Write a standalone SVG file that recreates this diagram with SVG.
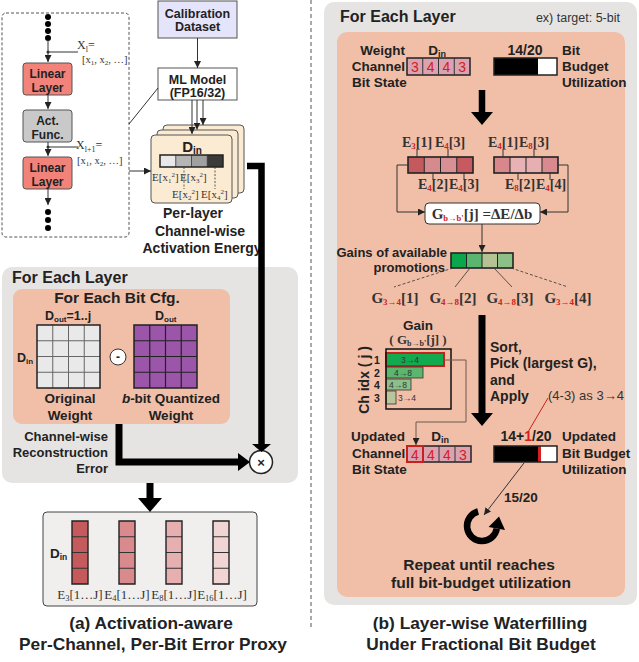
<svg xmlns="http://www.w3.org/2000/svg" width="639" height="662" viewBox="0 0 639 662">
<defs>
<style>
.t{font-family:"Liberation Sans",Arial,sans-serif;font-weight:bold;fill:#222}
.n{font-family:"Liberation Sans",Arial,sans-serif;fill:#333}
.s{font-family:"Liberation Serif","Times New Roman",serif;fill:#333}
.sb{font-family:"Liberation Serif","Times New Roman",serif;font-weight:bold;fill:#333}
.r{fill:#d42020}
.ln{stroke:#333;stroke-width:1;fill:none}
.cell{stroke:#222;stroke-width:1.2}
</style>
<marker id="ah" viewBox="0 0 10 10" refX="10" refY="5" markerWidth="7" markerHeight="7" markerUnits="userSpaceOnUse" orient="auto"><path d="M0,0 L10,5 L0,10 z" fill="#222"/></marker>
</defs>
<rect width="639" height="662" fill="#ffffff"/>

<!-- divider -->
<line x1="311" y1="0" x2="311" y2="627" stroke="#555" stroke-width="1" stroke-dasharray="4,3"/>

<!-- left network -->
<g id="network">
<rect x="2" y="13" width="127" height="224" rx="4" fill="none" stroke="#555" stroke-dasharray="3,2"/>
<circle cx="48" cy="17" r="3"/><circle cx="48" cy="24" r="3"/><circle cx="48" cy="31" r="3"/><circle cx="48" cy="38" r="3"/>
<circle cx="48" cy="212" r="3"/><circle cx="48" cy="220" r="3"/><circle cx="48" cy="228" r="3"/>
<text class="s" x="77" y="49" font-size="12">X<tspan font-size="8" dy="3">l</tspan><tspan dy="-3">=</tspan></text>
<text class="s" x="82" y="63" font-size="10.5">[x<tspan font-size="7" dy="2">1</tspan><tspan dy="-2">, x</tspan><tspan font-size="7" dy="2">2</tspan><tspan dy="-2">, …]</tspan></text>
<text class="s" x="76" y="149" font-size="12">X<tspan font-size="8" dy="3">l+1</tspan><tspan dy="-3">=</tspan></text>
<text class="s" x="77" y="164" font-size="10.5">[x<tspan font-size="7" dy="2">1</tspan><tspan dy="-2">, x</tspan><tspan font-size="7" dy="2">2</tspan><tspan dy="-2">, …]</tspan></text>
</g>
<g id="linear1">
<rect x="23" y="63" width="49" height="32" rx="3" fill="#f2837b" stroke="#555"/>
<text class="t" x="47.5" y="77.5" font-size="12" text-anchor="middle" fill="#333">Linear</text>
<text class="t" x="47.5" y="91.5" font-size="12" text-anchor="middle" fill="#333">Layer</text>
</g>
<g id="actfunc">
<rect x="23" y="110" width="49" height="32" rx="3" fill="#c9c9c9" stroke="#555"/>
<text class="t" x="47.5" y="124.5" font-size="12" text-anchor="middle" fill="#333">Act.</text>
<text class="t" x="47.5" y="138.5" font-size="12" text-anchor="middle" fill="#333">Func.</text>
</g>
<g id="linear2">
<rect x="23" y="157" width="49" height="32" rx="3" fill="#f2837b" stroke="#555"/>
<text class="t" x="47.5" y="171.5" font-size="12" text-anchor="middle" fill="#333">Linear</text>
<text class="t" x="47.5" y="185.5" font-size="12" text-anchor="middle" fill="#333">Layer</text>
</g>

<g id="calib">
<rect x="158" y="1" width="79" height="37" fill="#e4e4fa" stroke="#555"/>
<text class="t" x="197.5" y="18" font-size="12.5" text-anchor="middle" fill="#333">Calibration</text>
<text class="t" x="197.5" y="31" font-size="12.5" text-anchor="middle" fill="#333">Dataset</text>
</g>
<g id="mlmodel">
<rect x="158" y="68" width="79" height="32" fill="#ffffff" stroke="#555"/>
<text class="t" x="197.5" y="84" font-size="12.5" text-anchor="middle" fill="#333">ML Model</text>
<text class="t" x="197.5" y="97" font-size="12.5" text-anchor="middle" fill="#333">(FP16/32)</text>
</g>

<g id="perlayer">
<rect x="163" y="125" width="81" height="68" rx="4" fill="#fcebd3" stroke="#555"/>
<rect x="157" y="130" width="81" height="68" rx="4" fill="#fcebd3" stroke="#555"/>
<rect x="151" y="135" width="81" height="68" rx="4" fill="#fcebd3" stroke="#555"/>
<text class="t" x="192" y="152" font-size="15" text-anchor="middle">D<tspan font-size="10" dy="2">in</tspan></text>
<rect x="160" y="155" width="15.75" height="12" fill="#e8e8e8"/>
<rect x="175.75" y="155" width="15.75" height="12" fill="#b5b5b5"/>
<rect x="191.5" y="155" width="15.75" height="12" fill="#a0a0a0"/>
<rect x="207.25" y="155" width="15.75" height="12" fill="#3a3a3a"/>
<path d="M175.75,155V167M191.5,155V167M207.25,155V167" stroke="#333" stroke-width="0.8"/>
<rect x="160" y="155" width="63" height="12" fill="none" stroke="#222" stroke-width="1.5"/>
<path d="M184,167V189M215,167V189" stroke="#333" stroke-width="0.8" stroke-dasharray="2,1.5"/>
<text class="s" x="152" y="181" font-size="11">E[x<tspan font-size="7" dy="2">1</tspan><tspan font-size="7" dy="-6">2</tspan><tspan dy="4">]</tspan></text>
<text class="s" x="180" y="181" font-size="11">E[x<tspan font-size="7" dy="2">3</tspan><tspan font-size="7" dy="-6">2</tspan><tspan dy="4">]</tspan></text>
<text class="s" x="172" y="198" font-size="11">E[x<tspan font-size="7" dy="2">2</tspan><tspan font-size="7" dy="-6">2</tspan><tspan dy="4">]</tspan></text>
<text class="s" x="201" y="198" font-size="11">E[x<tspan font-size="7" dy="2">4</tspan><tspan font-size="7" dy="-6">2</tspan><tspan dy="4">]</tspan></text>
<text class="t" x="193" y="218" font-size="14" text-anchor="middle">Per-layer</text>
<text class="t" x="200" y="236" font-size="14" text-anchor="middle">Channel-wise</text>
<text class="t" x="202" y="253" font-size="14" text-anchor="middle">Activation Energy</text>
</g>

<!-- left For Each Layer -->
<g id="left-layer">
<rect x="2" y="267" width="296" height="216" rx="10" fill="#e6e4e2"/>
<text class="t" x="12" y="283" font-size="16">For Each Layer</text>
<rect x="13" y="289" width="217" height="135" rx="9" fill="#f1bfa7"/>
<text class="t" x="117" y="303" font-size="15.5" text-anchor="middle">For Each Bit Cfg.</text>
<text class="t" x="45" y="320" font-size="12.5">D<tspan font-size="8" dy="2">out</tspan><tspan dy="-2">=1..j</tspan></text>
<text class="t" x="155" y="320" font-size="12.5">D<tspan font-size="8" dy="2">out</tspan></text>
<text class="t" x="17" y="362" font-size="12.5">D<tspan font-size="8" dy="2">in</tspan></text>
<rect x="37" y="325" width="63" height="63" fill="#e9e9e9"/>
<path d="M52.75,325V388M68.5,325V388M84.25,325V388M37,340.75H100M37,356.5H100M37,372.25H100" stroke="#666" stroke-width="1"/>
<rect x="37" y="325" width="63" height="63" fill="none" stroke="#222" stroke-width="1.5"/>
<rect x="134" y="325" width="63" height="63" fill="#9b56a9"/>
<path d="M149.75,325V388M165.5,325V388M181.25,325V388M134,340.75H197M134,356.5H197M134,372.25H197" stroke="#222" stroke-width="1.2"/>
<rect x="134" y="325" width="63" height="63" fill="none" stroke="#222" stroke-width="1.5"/>
<circle cx="118" cy="357" r="8" fill="#fff" stroke="#333"/>
<text class="t" x="118" y="361" font-size="12" text-anchor="middle">-</text>
<text class="t" x="70" y="403" font-size="13.5" text-anchor="middle">Original</text>
<text class="t" x="70" y="420" font-size="13.5" text-anchor="middle">Weight</text>
<text class="t" x="171" y="403" font-size="13.5" text-anchor="middle"><tspan font-style="italic">b</tspan>-bit Quantized</text>
<text class="t" x="171" y="420" font-size="13.5" text-anchor="middle">Weight</text>
<text class="t" x="108" y="441" font-size="13" text-anchor="end">Channel-wise</text>
<text class="t" x="108" y="457" font-size="13" text-anchor="end">Reconstruction</text>
<text class="t" x="108" y="473" font-size="13" text-anchor="end">Error</text>
</g>
<g id="multiply">
<circle cx="261" cy="462" r="11.5" fill="#fff" stroke="#222" stroke-width="1.5"/>
<text class="t" x="261" y="467" font-size="13" text-anchor="middle">×</text>
</g>

<g id="ebox">
<rect x="43" y="512" width="214" height="94" rx="4" fill="#f0efee" stroke="#444"/>
<text class="t" x="50" y="558" font-size="13.5">D<tspan font-size="8.5" dy="2">in</tspan></text>
<rect x="72" y="521" width="16" height="63" fill="#c55a5c"/>
<rect x="119" y="521" width="16" height="63" fill="#d98a8c"/>
<rect x="166" y="521" width="16" height="63" fill="#e6b0b1"/>
<rect x="213" y="521" width="16" height="63" fill="#f1d5d5"/>
<path d="M72,536.75h16M72,552.5h16M72,568.25h16M119,536.75h16M119,552.5h16M119,568.25h16M166,536.75h16M166,552.5h16M166,568.25h16M213,536.75h16M213,552.5h16M213,568.25h16" stroke="#333" stroke-width="1"/>
<path d="M72,521h16v63h-16zM119,521h16v63h-16zM166,521h16v63h-16zM213,521h16v63h-16z" fill="none" stroke="#222" stroke-width="1.4"/>
<text class="s" x="80" y="599" font-size="13" text-anchor="middle">E<tspan font-size="8.5" dy="2">3</tspan><tspan dy="-2">[1…J]</tspan></text>
<text class="s" x="127" y="599" font-size="13" text-anchor="middle">E<tspan font-size="8.5" dy="2">4</tspan><tspan dy="-2">[1…J]</tspan></text>
<text class="s" x="174" y="599" font-size="13" text-anchor="middle">E<tspan font-size="8.5" dy="2">8</tspan><tspan dy="-2">[1…J]</tspan></text>
<text class="s" x="222" y="599" font-size="13" text-anchor="middle">E<tspan font-size="8.5" dy="2">16</tspan><tspan dy="-2">[1…J]</tspan></text>
</g>
<g id="caption-a">
<text class="t" x="151" y="629" font-size="17.3" text-anchor="middle">(a) Activation-aware</text>
<text class="t" x="153" y="650" font-size="17.3" text-anchor="middle">Per-Channel, Per-Bit Error Proxy</text>
</g>

<!-- right panel -->
<g id="right-layer">
<rect x="324" y="2" width="313" height="603" rx="10" fill="#e6e4e2"/>
<text class="t" x="340" y="22" font-size="16">For Each Layer</text>
<text class="n" x="620" y="22" font-size="12.5" text-anchor="end">ex) target: 5-bit</text>
<rect x="337" y="32" width="288" height="565" rx="10" fill="#f1bfa7"/>
</g>
<g id="bitstate">
<text class="t" x="405" y="55" font-size="13.5" text-anchor="end">Weight</text>
<text class="t" x="405" y="71" font-size="13.5" text-anchor="end">Channel</text>
<text class="t" x="352" y="87" font-size="13.5">Bit State</text>
<text class="t" x="437" y="55" font-size="13.5" text-anchor="middle">D<tspan font-size="9" dy="2">in</tspan></text>
<rect x="407" y="58" width="63" height="17" fill="#dba3b0" stroke="#222" stroke-width="1.5"/>
<path d="M422.75,58V75M438.5,58V75M454.25,58V75" stroke="#333"/>
<text class="n r" x="414.9" y="72" font-size="14" text-anchor="middle">3</text>
<text class="n r" x="430.6" y="72" font-size="14" text-anchor="middle">4</text>
<text class="n r" x="446.4" y="72" font-size="14" text-anchor="middle">4</text>
<text class="n r" x="462.1" y="72" font-size="14" text-anchor="middle">3</text>
</g>
<g id="budget">
<text class="t" x="525" y="55" font-size="14" text-anchor="middle">14/20</text>
<rect x="494" y="58" width="63" height="17" fill="#fff"/>
<rect x="494" y="58" width="44" height="17" fill="#000"/>
<rect x="494" y="58" width="63" height="17" fill="none" stroke="#222" stroke-width="1.5"/>
<text class="t" x="562" y="55" font-size="13.5">Bit</text>
<text class="t" x="562" y="71" font-size="13.5">Budget</text>
<text class="t" x="562" y="87" font-size="13.5">Utilization</text>
</g>
<g id="arrays">
<rect x="408" y="157" width="16.25" height="16" fill="#c55a5e"/>
<rect x="424.25" y="157" width="16.25" height="16" fill="#d68a8e"/>
<rect x="440.5" y="157" width="16.25" height="16" fill="#d89094"/>
<rect x="456.75" y="157" width="16.25" height="16" fill="#c65a60"/>
<path d="M424.25,157v16M440.5,157v16M456.75,157v16" stroke="#222"/>
<rect x="408" y="157" width="65" height="16" fill="none" stroke="#222" stroke-width="1.6"/>
<rect x="494" y="157" width="16" height="16" fill="#d8888c"/>
<rect x="510" y="157" width="16" height="16" fill="#e8b2b4"/>
<rect x="526" y="157" width="16" height="16" fill="#e6b0b2"/>
<rect x="542" y="157" width="16" height="16" fill="#d88a8e"/>
<path d="M510,157v16M526,157v16M542,157v16" stroke="#222"/>
<rect x="494" y="157" width="64" height="16" fill="none" stroke="#222" stroke-width="1.6"/>
<path d="M417,149V157M448,149V157M433,173V180M464,173V180M503,149V157M534,149V157M518,173V180M550,173V180" stroke="#333"/>
<text class="sb" x="402" y="147" font-size="14">E<tspan class="r" font-size="9" dy="2">3</tspan><tspan dy="-2">[1]</tspan></text>
<text class="sb" x="435" y="147" font-size="14">E<tspan class="r" font-size="9" dy="2">4</tspan><tspan dy="-2">[3]</tspan></text>
<text class="sb" x="418" y="189" font-size="14">E<tspan class="r" font-size="9" dy="2">4</tspan><tspan dy="-2">[2]</tspan></text>
<text class="sb" x="449" y="189" font-size="14">E<tspan class="r" font-size="9" dy="2">4</tspan><tspan dy="-2">[3]</tspan></text>
<text class="sb" x="488" y="147" font-size="14">E<tspan class="r" font-size="9" dy="2">4</tspan><tspan dy="-2">[1]</tspan></text>
<text class="sb" x="519" y="147" font-size="14">E<tspan class="r" font-size="9" dy="2">8</tspan><tspan dy="-2">[3]</tspan></text>
<text class="sb" x="505" y="189" font-size="14">E<tspan class="r" font-size="9" dy="2">8</tspan><tspan dy="-2">[2]</tspan></text>
<text class="sb" x="536" y="189" font-size="14">E<tspan class="r" font-size="9" dy="2">4</tspan><tspan dy="-2">[4]</tspan></text>
</g>
<g id="gbox">
<rect x="425" y="203" width="115" height="21" rx="4" fill="#fff" stroke="#333"/>
<text class="sb" x="482" y="219" font-size="15" text-anchor="middle">G<tspan class="r" font-size="8.5" dy="2">b→b'</tspan><tspan dy="-2">[j] =ΔE/Δb</tspan></text>
</g>
<g id="gains">
<text class="t" x="447" y="256.5" font-size="13" text-anchor="end">Gains of available</text>
<text class="t" x="445" y="272" font-size="13" text-anchor="end">promotions</text>
<rect x="451" y="253" width="15.5" height="15" fill="#0aa64c"/>
<rect x="466.5" y="253" width="15.5" height="15" fill="#5ab56e"/>
<rect x="482" y="253" width="15.5" height="15" fill="#b5c293"/>
<rect x="497.5" y="253" width="15.5" height="15" fill="#8dbf89"/>
<path d="M466.5,253v15M482,253v15M497.5,253v15" stroke="#222"/>
<rect x="451" y="253" width="62" height="15" fill="none" stroke="#222" stroke-width="1.6"/>
<text class="sb" x="395" y="303" font-size="15" text-anchor="middle">G<tspan class="r" font-size="9" dy="2">3→4</tspan><tspan dy="-2">[1]</tspan></text>
<text class="sb" x="453" y="303" font-size="15" text-anchor="middle">G<tspan class="r" font-size="9" dy="2">4→8</tspan><tspan dy="-2">[2]</tspan></text>
<text class="sb" x="510" y="303" font-size="15" text-anchor="middle">G<tspan class="r" font-size="9" dy="2">4→8</tspan><tspan dy="-2">[3]</tspan></text>
<text class="sb" x="568" y="303" font-size="15" text-anchor="middle">G<tspan class="r" font-size="9" dy="2">3→4</tspan><tspan dy="-2">[4]</tspan></text>
</g>
<g id="chart">
<text class="t" x="418" y="330" font-size="13.5" text-anchor="middle">Gain</text>
<text class="sb" x="418" y="344" font-size="13" text-anchor="middle">( G<tspan font-size="8" dy="2">b→b'</tspan><tspan dy="-2">[j] )</tspan></text>
<text class="t" transform="translate(369,380) rotate(-90)" font-size="14" text-anchor="middle">Ch idx ( j )</text>
<text class="t" x="377" y="364" font-size="10.5" text-anchor="middle">1</text>
<text class="t" x="377" y="376.5" font-size="10.5" text-anchor="middle">2</text>
<text class="t" x="377" y="389" font-size="10.5" text-anchor="middle">4</text>
<text class="t" x="377" y="402" font-size="10.5" text-anchor="middle">3</text>
<rect x="386" y="353" width="58" height="13" fill="#13a94f" stroke="#c8201c" stroke-width="2"/>
<rect x="386" y="367" width="37" height="11" fill="#5bb66e" stroke="#333" stroke-width="0.8"/>
<rect x="386" y="379" width="25" height="11" fill="#8cc088" stroke="#333" stroke-width="0.8"/>
<rect x="386" y="391" width="10" height="13" fill="#b9c69c" stroke="#333" stroke-width="0.8"/>
<rect x="386" y="349" width="65" height="60" fill="none" stroke="#111" stroke-width="1.5"/>
<text class="n" x="410" y="363" font-size="8.5" text-anchor="middle" fill="#222">3→4</text>
<text class="n" x="403" y="376" font-size="8.5" text-anchor="middle" fill="#222">4→8</text>
<text class="n" x="398" y="388" font-size="8.5" text-anchor="middle" fill="#222">4→8</text>
<text class="n" x="407" y="401" font-size="8.5" text-anchor="middle" fill="#222">3→4</text>
</g>
<g id="sortpick">
<text class="t" x="490" y="352" font-size="14">Sort,</text>
<text class="t" x="490" y="368" font-size="14">Pick (largest G),</text>
<text class="t" x="490" y="385" font-size="14">and</text>
<text class="t" x="490" y="401" font-size="14">Apply</text>
<text class="n" x="548" y="400" font-size="13">(4-3) as 3→4</text>
</g>
<g id="updated-state">
<text class="t" x="351" y="441" font-size="13.5">Updated</text>
<text class="t" x="352" y="458" font-size="13.5">Channel</text>
<text class="t" x="352" y="474" font-size="13.5">Bit State</text>
<text class="t" x="440" y="441" font-size="13.5" text-anchor="middle">D<tspan font-size="9" dy="2">in</tspan></text>
<rect x="407" y="446" width="64" height="16" fill="#dba3b0" stroke="#222" stroke-width="1.5"/>
<path d="M439,446V462M455,446V462" stroke="#333"/>
<rect x="407" y="446" width="16" height="16" fill="none" stroke="#c8201c" stroke-width="2"/>
<text class="n r" x="415" y="459.5" font-size="14" text-anchor="middle">4</text>
<text class="n r" x="431" y="459.5" font-size="14" text-anchor="middle">4</text>
<text class="n r" x="447" y="459.5" font-size="14" text-anchor="middle">4</text>
<text class="n r" x="463" y="459.5" font-size="14" text-anchor="middle">3</text>
</g>
<g id="updated-budget">
<text class="t" x="526" y="441" font-size="14" text-anchor="middle">14+<tspan class="r">1</tspan>/20</text>
<rect x="494" y="446" width="63" height="16" fill="#fff"/>
<rect x="494" y="446" width="44" height="16" fill="#000"/>
<rect x="538" y="446" width="3" height="16" fill="#d42020"/>
<rect x="494" y="446" width="63" height="16" fill="none" stroke="#222" stroke-width="1.5"/>
<text class="t" x="562" y="441" font-size="13.5">Updated</text>
<text class="t" x="562" y="458" font-size="13.5">Bit Budget</text>
<text class="t" x="562" y="474" font-size="13.5">Utilization</text>
<text class="t" x="504" y="502" font-size="13.5">15/20</text>
</g>
<g id="repeat">
<path d="M478.1,511.5 A15,15 0 1 0 496.8,528.6" fill="none" stroke="#000" stroke-width="6.5"/>
<path d="M505,530 L488.6,527 L499,516.5 z" fill="#000"/>
<text class="t" x="479" y="570" font-size="15.5" text-anchor="middle">Repeat until reaches</text>
<text class="t" x="481" y="588" font-size="15.5" text-anchor="middle">full bit-budget utilization</text>
</g>
<g id="caption-b">
<text class="t" x="480" y="629" font-size="17.3" text-anchor="middle">(b) Layer-wise Waterfilling</text>
<text class="t" x="481" y="650" font-size="17.3" text-anchor="middle">Under Fractional Bit Budget</text>
</g>

<!-- connectors -->
<g id="connectors">
<path class="ln" d="M48,40V62" marker-end="url(#ah)"/>
<path class="ln" d="M48,52H78"/><circle cx="48" cy="52" r="1.5" fill="#333"/>
<path class="ln" d="M48,95V109" marker-end="url(#ah)"/>
<path class="ln" d="M48,142V156" marker-end="url(#ah)"/>
<path class="ln" d="M48,147H78"/><circle cx="48" cy="147" r="1.5" fill="#333"/>
<path class="ln" d="M48,189V205" marker-end="url(#ah)"/>
<path class="ln" d="M129,124L158,88" stroke-width="0.8"/>
<path class="ln" d="M129,171H151" marker-end="url(#ah)"/>
<path class="ln" d="M197.5,38V68" marker-end="url(#ah)"/>
<path class="ln" d="M192,100V134" marker-end="url(#ah)"/>
<path class="ln" d="M197,100V129.5" marker-end="url(#ah)"/>
<path class="ln" d="M203,100V125" marker-end="url(#ah)"/>
<path d="M247,166H261.5V446" fill="none" stroke="#000" stroke-width="6.5"/>
<path d="M252,444L271,444L261.5,452z" fill="#000"/>
<path d="M119,424V462H240" fill="none" stroke="#000" stroke-width="7"/>
<path d="M238,453L238,471L250,462z" fill="#000"/>
<path d="M150,483V499" fill="none" stroke="#000" stroke-width="7"/>
<path d="M138,498L162,498L150,512z" fill="#000"/>
<path d="M482,90V113" fill="none" stroke="#000" stroke-width="6.5"/>
<path d="M471,112L493,112L482,125z" fill="#000"/>
<path class="ln" d="M408,165H397V212H425" marker-end="url(#ah)"/>
<path class="ln" d="M558,165H568V212H540" marker-end="url(#ah)"/>
<path class="ln" d="M482,224V252" marker-end="url(#ah)"/>
<path d="M453,268L394,287M511,268L568,287" stroke="#333" stroke-width="0.8" stroke-dasharray="3,2"/>
<path d="M470,268L455,287M494,268L512,287" stroke="#333" stroke-width="0.8"/>
<path d="M482,315V415" fill="none" stroke="#000" stroke-width="7"/>
<path d="M471,413L493,413L482,426z" fill="#000"/>
<path d="M444,360H466V422H416V445" fill="none" stroke="#6b5b52" stroke-width="1" marker-end="url(#ah)"/>
<path d="M548,398L528,432" stroke="#c8201c" stroke-width="1"/>
<path class="ln" d="M524,463L484,515" marker-end="url(#ah)"/>
</g>
</svg>
